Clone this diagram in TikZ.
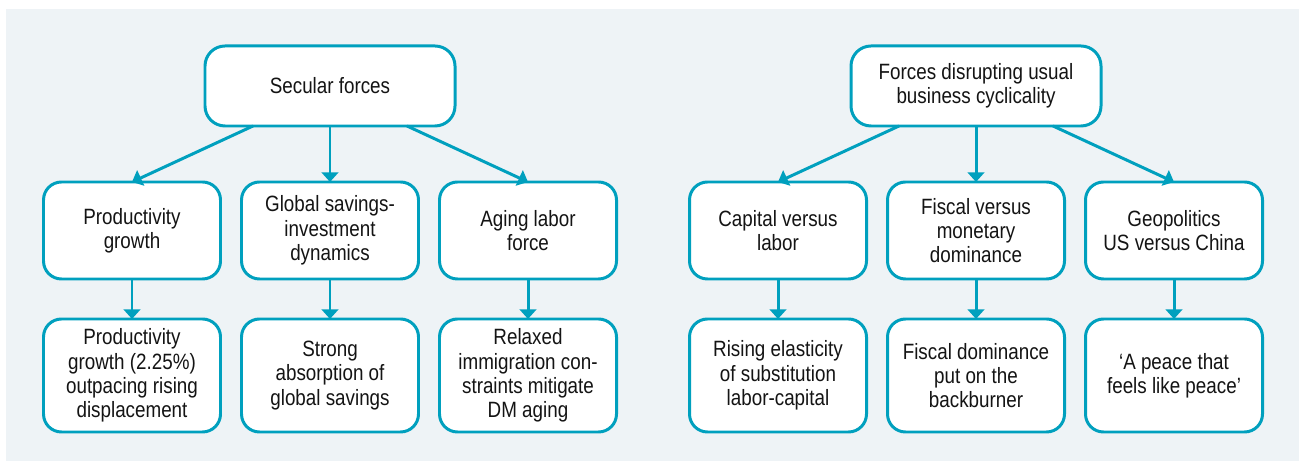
\documentclass[tikz,border=0pt]{standalone}
\usepackage{fontspec}
\setmainfont{Liberation Sans}[FakeStretch=0.85]
\usepackage{xcolor}
\usepackage{tikz}
\usetikzlibrary{arrows.meta,positioning}
\definecolor{corazul}{RGB}{0,160,190}
\definecolor{corfundo}{RGB}{238,243,246}
\definecolor{cortexto}{RGB}{20,20,20}

\begin{document}
\begin{tikzpicture}[
  node distance=1.12cm and 0.42cm,
  caixa/.style={rectangle, draw=corazul, line width=1.7pt, rounded corners=0.36cm,
                fill=white, minimum width=3.54cm, minimum height=1.94cm, outer sep=0pt,
                align=center, text=cortexto, font=\fontsize{12.6}{13.8}\selectfont},
  topo/.style={caixa, minimum width=5cm, minimum height=1.6cm, rounded corners=0.4cm},
  fundo/.style={caixa, minimum height=2.26cm},
  seta/.style={-{Triangle[length=5.5pt,width=9.5pt]}, line width=1.7pt, color=corazul}
]
  \useasboundingbox (0,0) rectangle (25.98,-9.22);
  \fill[corfundo] (0.12,-0.18) rectangle (25.98,-9.22);

  \node[topo] (sec) at (6.6,-1.72) {Secular forces};
  \node[caixa, below=of sec] (glob) {Global savings-\\ investment\\ dynamics};
  \node[caixa, left=of glob] (prod) {Productivity\\ growth};
  \node[caixa, right=of glob] (aging) {Aging labor\\ force};
  \node[fundo, below=0.8cm of prod] (prodb) {Productivity\\ growth (2.25\%)\\ outpacing rising\\ displacement};
  \node[fundo, below=0.8cm of glob] (globb) {Strong\\ absorption of\\ global savings};
  \node[fundo, below=0.8cm of aging] (agingb) {Relaxed\\ immigration con-\\ straints mitigate\\ DM aging};

  \node[topo] (dis) at (19.52,-1.72) {Forces disrupting usual\\ business cyclicality};
  \node[caixa, below=of dis] (fisc) {Fiscal versus\\ monetary\\ dominance};
  \node[caixa, left=of fisc] (cap) {Capital versus\\ labor};
  \node[caixa, right=of fisc] (geo) {Geopolitics\\ US versus China};
  \node[fundo, below=0.8cm of cap] (capb) {Rising elasticity\\ of substitution\\ labor-capital};
  \node[fundo, below=0.8cm of fisc] (fiscb) {Fiscal dominance\\ put on the\\ backburner};
  \node[fundo, below=0.8cm of geo] (geob) {`A peace that\\ feels like peace'};

  \draw[seta] ([xshift=-1.54cm]sec.south) -- (prod.north);
  \draw[seta] (sec) -- (glob);
  \draw[seta] ([xshift=1.54cm]sec.south) -- (aging.north);
  \draw[seta] (prod) -- (prodb);
  \draw[seta] (glob) -- (globb);
  \draw[seta] (aging) -- (agingb);

  \draw[seta] ([xshift=-1.54cm]dis.south) -- (cap.north);
  \draw[seta] (dis) -- (fisc);
  \draw[seta] ([xshift=1.54cm]dis.south) -- (geo.north);
  \draw[seta] (cap) -- (capb);
  \draw[seta] (fisc) -- (fiscb);
  \draw[seta] (geo) -- (geob);
\end{tikzpicture}
\end{document}
